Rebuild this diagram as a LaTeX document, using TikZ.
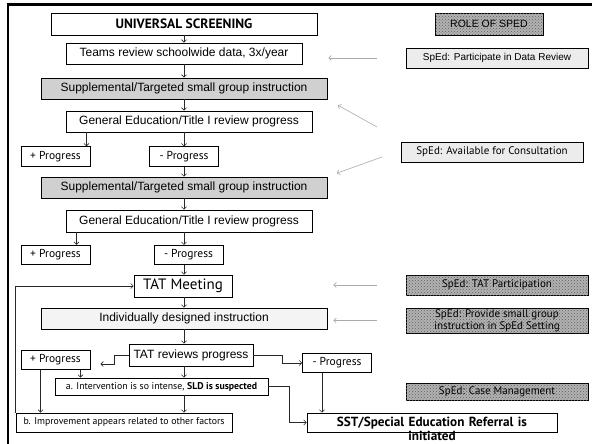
\documentclass[tikz,border=0pt]{standalone}
\usepackage{fontspec}
\setmainfont{Liberation Sans}
\newfontfamily\fgfont{PT Sans}
\usetikzlibrary{arrows.meta, positioning, patterns}
\definecolor{rtline}{RGB}{0,0,0}
\definecolor{rtarrow}{RGB}{40,40,40}
\definecolor{rtshade}{RGB}{208,208,208}
\definecolor{rtlight}{RGB}{244,244,244}
\definecolor{rtsped}{RGB}{236,236,236}
\definecolor{rtdots}{RGB}{178,178,178}
\definecolor{rtdotink}{RGB}{95,95,95}
\definecolor{rtgrey}{RGB}{170,170,170}
\tikzset{
  flowbox/.style   = {rectangle, draw=rtline, line width=0.8pt, fill=white,
                      text=black, inner sep=0pt, align=center,
                      font=\fontsize{12}{14}\selectfont},
  shadebox/.style  = {flowbox, fill=rtshade},
  headbox/.style   = {flowbox, font=\fgfont\bfseries\fontsize{13.5}{15}\selectfont},
  branchbox/.style = {flowbox, minimum width=69pt, minimum height=19.5pt,
                      font=\fgfont\fontsize{11.5}{13}\selectfont},
  notebox/.style   = {flowbox, font=\fgfont\fontsize{9.8}{11}\selectfont},
  referral/.style  = {flowbox, text width=240pt, inner xsep=5pt, inner ysep=3.5pt,
                      text height=9.5pt, text depth=2.5pt,
                      font=\fgfont\bfseries\fontsize{13.2}{14}\selectfont},
  spedbox/.style   = {flowbox, fill=rtsped, minimum width=182pt, minimum height=20pt},
  dotbox/.style    = {flowbox, fill=rtdots, minimum width=182pt,
                      postaction={pattern=crosshatch dots, pattern color=rtdotink},
                      font=\fgfont\fontsize{11}{12}\selectfont},
  flow/.style      = {-{Straight Barb[length=2.5pt, width=5pt]}, line width=0.6pt, draw=rtarrow},
  spedflow/.style  = {-{Straight Barb[length=2.5pt, width=5pt]}, line width=0.6pt, draw=rtgrey},
  pageframe/.style = {line width=2.5pt, draw=black},
}
\begin{document}
\begin{tikzpicture}[x=1pt, y=-1pt]
  \useasboundingbox (0,0) rectangle (592,444);
  \draw[pageframe] (592,4.5) -- (8,4.5) -- (8,444);

  % left column: the flow
  \node[headbox, minimum width=266pt, minimum height=22pt] (us) at (184,24) {UNIVERSAL SCREENING};
  \node[flowbox, minimum width=236pt, minimum height=21pt] (teams) at (184,53.5) {Teams review schoolwide data, 3x/year};
  \node[shadebox, minimum width=286pt, minimum height=21pt] (supa) at (184,88.5) {Supplemental/Targeted small group instruction};
  \node[flowbox, minimum width=246pt, minimum height=21pt] (gena) at (189,121.5) {General Education/Title I review progress};
  \node[branchbox] (plusa) at (55.5,156.5) {+ Progress};
  \node[branchbox] (minusa) at (184,156.5) {- Progress};
  \node[shadebox, minimum width=286pt, minimum height=21pt] (supb) at (184,187.5) {Supplemental/Targeted small group instruction};
  \node[flowbox, minimum width=246pt, minimum height=22pt] (genb) at (189,221) {General Education/Title I review progress};
  \node[branchbox] (plusb) at (55.5,255) {+ Progress};
  \node[branchbox] (minusb) at (188.5,255) {- Progress};
  \node[flowbox, font=\fgfont\fontsize{15}{16}\selectfont, minimum width=98pt, minimum height=22pt] (tatm) at (183,286) {TAT Meeting};
  \node[flowbox, fill=rtlight, minimum width=286pt, minimum height=21pt] (indiv) at (184,318.5) {Individually designed instruction};
  \node[flowbox, minimum width=124pt, minimum height=22pt] (tatr) at (191,355) {TAT reviews progress};
  \node[branchbox] (plusc) at (55.5,360) {+ Progress};
  \node[branchbox] (minusc) at (337,363) {- Progress};
  \node[notebox, minimum width=213pt, minimum height=17pt] (susp) at (161.5,386.5) {a. Intervention is so intense, \textbf{SLD is suspected}};
  \node[notebox, minimum width=216pt, minimum height=19pt] (other) at (124,422.5) {b. Improvement appears related to other factors};
  \node[referral] (sst) at (432,422.5) {SST/Special Education Referral is\\initiated};

  % right column: role of sped
  \node[dotbox, font=\fontsize{10.5}{12}\selectfont, minimum width=108pt, minimum height=22pt] (role) at (489,24) {ROLE OF SPED};
  \node[spedbox, font=\fontsize{10}{12}\selectfont] (rdata) at (497,58) {SpEd: Participate in Data Review};
  \node[spedbox, font=\fgfont\fontsize{11}{12}\selectfont] (rcons) at (492,152) {SpEd: Available for Consultation};
  \node[dotbox, minimum height=20pt] (rtat) at (497,285) {SpEd: TAT Participation};
  \node[dotbox, minimum height=25pt] (rsmall) at (497,320.5) {SpEd: Provide small group\\instruction in SpEd Setting};
  \node[dotbox, minimum height=17pt] (rcase) at (497,391.5) {SpEd: Case Management};
  \coordinate (consup) at (377,127);
  \coordinate (consdn) at (382,157);

  % flow connectors
  \draw[flow] (us) -- (teams);
  \draw[flow] (teams) -- (supa);
  \draw[flow] (supa.south) -- (supa.south |- gena.north);
  \draw[flow] ([xshift=-4pt]plusa.north east |- gena.south) -- ([xshift=-4pt]plusa.north east);
  \draw[flow] (minusa.north |- gena.south) -- (minusa.north);
  \draw[flow] (minusa.south) -- (minusa.south |- supb.north);
  \draw[flow] (supb.south) -- (supb.south |- genb.north);
  \draw[flow] ([xshift=-14pt]plusb.north east |- genb.south) -- ([xshift=-14pt]plusb.north east);
  \draw[flow] (genb.south -| us.south) -- (minusb.north -| us.south);
  \draw[flow] (minusb.south -| us.south) -- (tatm.north -| us.south);
  \draw[flow] (tatm.south -| us.south) -- (indiv.north -| us.south);
  \draw[flow] (indiv.south) -- (indiv.south |- tatr.north);
  \draw[flow] (tatr.south -| indiv.south) -- (susp.north -| indiv.south);
  \draw[flow] (susp.south -| indiv.south) -- (other.north -| indiv.south);
  \draw[flow] (tatr.west) -- ++(-14,0) |- ([xshift=10pt, yshift=-4pt]plusc.east);
  \draw[flow] (tatr.east) -- ++(29,0) |- (minusc.west);
  \draw[flow] ([xshift=-10pt]plusc.south east) -- ([xshift=-10pt]plusc.south east |- susp.north);
  \draw[flow] ([xshift=20pt]plusc.south west) -- ([xshift=20pt]plusc.south west |- other.north);
  \draw[flow] (susp.east) -- ++(21,0) |- (sst.west);
  \draw[flow] ([xshift=-15pt]minusc.south) -- ([xshift=-15pt]minusc.south |- sst.north);
  \draw[flow] (other.north west) |- (tatm.west);

  % sped pointers
  \draw[spedflow, shorten <=29pt, shorten >=1pt] (rdata.west) -- (rdata.west -| supa.east);
  \draw[spedflow, shorten >=12pt] (consup) -- (supa.south east);
  \draw[spedflow, shorten >=10pt] (consdn) -- (supb.north east);
  \draw[spedflow, shorten <=29pt, shorten >=6pt] (rtat.west) -- (rtat.west -| indiv.east);
  \draw[spedflow, shorten <=29pt, shorten >=6pt] (rsmall.west) -- (rsmall.west -| indiv.east);
\end{tikzpicture}
\end{document}
